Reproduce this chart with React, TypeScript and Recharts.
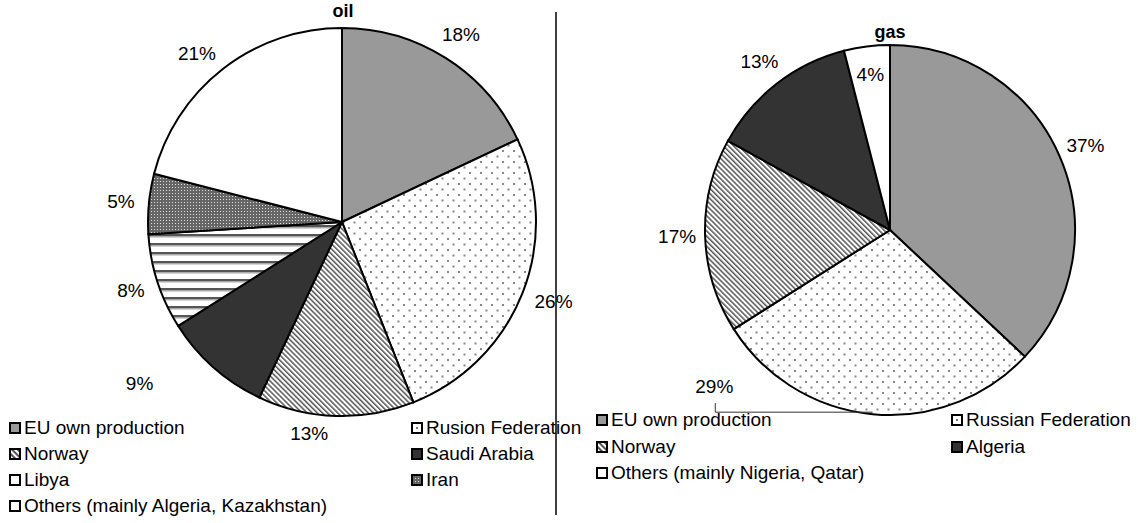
import React from "react";
import { PieChart, Pie, Cell } from "recharts";

// shares in % of supply
const oilSources = [
  "EU own production",
  "Rusion Federation",
  "Norway",
  "Saudi Arabia",
  "Libya",
  "Iran",
  "Others (mainly Algeria, Kazakhstan)",
];
const oilShares = [18, 26, 13, 9, 8, 5, 21];

const gasSources = [
  "EU own production",
  "Russian Federation",
  "Norway",
  "Algeria",
  "Others (mainly Nigeria, Qatar)",
];
const gasShares = [37, 29, 17, 13, 4];

const oilFills = ["#999999", "url(#dots)", "url(#diag)", "#333333", "url(#hstripe)", "url(#checker)", "#ffffff"];
const gasFills = ["#999999", "url(#dots)", "url(#diag)", "#333333", "#ffffff"];

const FONT = '"Liberation Sans", Arial, sans-serif';
const RAD = Math.PI / 180;
const NO_MARGIN = { top: 0, right: 0, bottom: 0, left: 0 };

const oilData = oilSources.map((name, i) => ({ name, value: oilShares[i] }));
const gasData = gasSources.map((name, i) => ({ name, value: gasShares[i] }));

// excel moved a few labels around, so nudge those (angle in deg, radius in px)
const oilTweaks: Record<number, { da?: number; dr?: number; leader?: boolean }> = {
  1: { da: 1, dr: 4 },
  2: { da: -7, dr: -8 },
  3: { da: -10, dr: 37 },
  6: { da: 3 },
};
const gasTweaks: Record<number, { da?: number; dr?: number; leader?: boolean }> = {
  1: { da: -43, dr: 22, leader: true },
  4: { dr: -56 },
};

function Patterns() {
  return (
    <defs>
      <pattern id="dots" width="11" height="11" patternUnits="userSpaceOnUse">
        <rect width="11" height="11" fill="#fff" />
        <rect x="1.5" y="1.5" width="2" height="2" fill="#888" />
        <rect x="7" y="7" width="2" height="2" fill="#888" />
      </pattern>
      <pattern id="diag" width="3.6" height="3.6" patternUnits="userSpaceOnUse" patternTransform="rotate(-45)">
        <rect width="3.6" height="3.6" fill="#fff" />
        <rect width="1.5" height="3.6" fill="#555" />
      </pattern>
      <pattern id="hstripe" width="9" height="9" patternUnits="userSpaceOnUse">
        <rect width="9" height="9" fill="#fff" />
        <rect y="0" width="9" height="2.5" fill="#555" />
        <rect y="2.5" width="9" height="1" fill="#aaa" />
      </pattern>
      <pattern id="checker" width="3" height="3" patternUnits="userSpaceOnUse">
        <rect width="3" height="3" fill="#666" />
        <rect x="1" y="1" width="1" height="1" fill="#ddd" />
      </pattern>
    </defs>
  );
}

function makeLabel(tweaks: Record<number, { da?: number; dr?: number; leader?: boolean }>) {
  return (props: any) => {
    const { cx, cy, midAngle, outerRadius, value, index } = props;
    const t = tweaks[index] || {};
    const a = (midAngle + (t.da || 0)) * RAD;
    const r = outerRadius + 28 + (t.dr || 0);
    const x = cx + r * Math.cos(-a);
    const y = cy + r * Math.sin(-a);
    let leader = null;
    if (t.leader) {
      const ex = cx + outerRadius * Math.cos(-midAngle * RAD);
      const ey = cy + outerRadius * Math.sin(-midAngle * RAD) - 2;
      leader = (
        <polyline
          points={`${x + 1},${y + 17} ${x + 1},${ey} ${ex},${ey}`}
          fill="none"
          stroke="#333"
          strokeWidth={1}
        />
      );
    }
    return (
      <g>
        {leader}
        <text
          x={x}
          y={y}
          textAnchor="middle"
          dominantBaseline="central"
          fontFamily={FONT}
          fontSize={19}
          fill="#000"
        >
          {`${value}%`}
        </text>
      </g>
    );
  };
}

function Swatch({ fill, id }: { fill: string; id: string }) {
  return (
    <svg width={12} height={12} style={{ display: "block" }}>
      <defs>
        <pattern id={`${id}-d`} width="12" height="12" patternUnits="userSpaceOnUse">
          <rect width="12" height="12" fill="#fff" />
          <rect x="5" y="5" width="2" height="2" fill="#777" />
        </pattern>
        <pattern id={`${id}-g`} width="4" height="4" patternUnits="userSpaceOnUse" patternTransform="rotate(-45)">
          <rect width="4" height="4" fill="#fff" />
          <rect width="2" height="4" fill="#555" />
        </pattern>
        <pattern id={`${id}-c`} width="3" height="3" patternUnits="userSpaceOnUse">
          <rect width="3" height="3" fill="#666" />
          <rect x="1" y="1" width="1" height="1" fill="#ddd" />
        </pattern>
      </defs>
      <rect
        x={1}
        y={1}
        width={10}
        height={10}
        fill={
          fill === "url(#dots)"
            ? `url(#${id}-d)`
            : fill === "url(#diag)"
            ? `url(#${id}-g)`
            : fill === "url(#checker)"
            ? `url(#${id}-c)`
            : fill === "url(#hstripe)"
            ? "#fff"
            : fill
        }
        stroke="#000"
        strokeWidth={2}
      />
    </svg>
  );
}

function Legend({
  names,
  fills,
  cols,
  top,
  gap,
  prefix,
}: {
  names: string[];
  fills: string[];
  cols: number[];
  top: number;
  gap: number;
  prefix: string;
}) {
  return (
    <>
      {names.map((n, i) => (
        <div
          key={n + i}
          style={{
            position: "absolute",
            left: cols[i % 2],
            top: top + Math.floor(i / 2) * gap - 11,
            height: 22,
            display: "flex",
            alignItems: "center",
            gap: 3,
            fontFamily: FONT,
            fontSize: 19,
            whiteSpace: "nowrap",
            color: "#000",
          }}
        >
          <Swatch fill={fills[i]} id={`${prefix}${i}`} />
          <span>{n}</span>
        </div>
      ))}
    </>
  );
}

export default function App() {
  return (
    <div
      style={{
        position: "absolute",
        left: 0,
        top: 0,
        width: 1138,
        height: 523,
        background: "#fff",
        overflow: "hidden",
      }}
    >
      <div style={{ position: "absolute", left: 0, top: 0 }}>
        <PieChart width={600} height={523} margin={NO_MARGIN}>
          <Patterns />
          <Pie
            data={oilData}
            dataKey="value"
            nameKey="name"
            cx={342}
            cy={222}
            outerRadius={194}
            startAngle={90}
            endAngle={-270}
            stroke="#000"
            strokeWidth={2}
            label={makeLabel(oilTweaks)}
            labelLine={false}
            isAnimationActive={false}
          >
            {oilData.map((d, i) => (
              <Cell key={d.name} fill={oilFills[i]} />
            ))}
          </Pie>
        </PieChart>
      </div>
      <div style={{ position: "absolute", left: 556, top: 0 }}>
        <PieChart width={582} height={523} margin={NO_MARGIN}>
          <Patterns />
          <Pie
            data={gasData}
            dataKey="value"
            nameKey="name"
            cx={334}
            cy={230}
            outerRadius={185}
            startAngle={90}
            endAngle={-270}
            stroke="#000"
            strokeWidth={2}
            label={makeLabel(gasTweaks)}
            labelLine={false}
            isAnimationActive={false}
          >
            {gasData.map((d, i) => (
              <Cell key={d.name} fill={gasFills[i]} />
            ))}
          </Pie>
        </PieChart>
      </div>

      <svg width={1138} height={523} style={{ position: "absolute", left: 0, top: 0, pointerEvents: "none" }}>
        <line x1={556} y1={12} x2={556} y2={515} stroke="#000" strokeWidth={1.5} />
        <text x={343} y={11} textAnchor="middle" dominantBaseline="central" fontFamily={FONT} fontSize={18} fontWeight="bold">
          oil
        </text>
        <text x={890} y={32} textAnchor="middle" dominantBaseline="central" fontFamily={FONT} fontSize={18} fontWeight="bold">
          gas
        </text>
      </svg>

      <Legend names={oilSources} fills={oilFills} cols={[9, 411]} top={428} gap={26} prefix="lo" />
      <Legend names={gasSources} fills={gasFills} cols={[596, 951]} top={420} gap={26.5} prefix="lg" />
    </div>
  );
}
